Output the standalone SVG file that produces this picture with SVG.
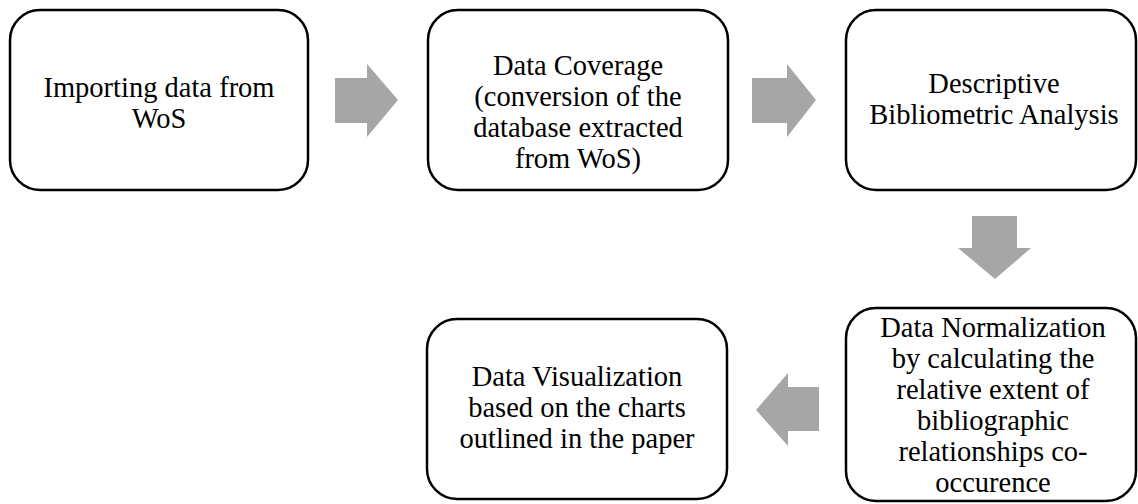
<svg xmlns="http://www.w3.org/2000/svg" width="1138" height="504" viewBox="0 0 1138 504">
<style>
.box{fill:#fff;stroke:#000;stroke-width:2.5}
.arr{fill:#a6a6a6;stroke:none}
text{font-family:"Liberation Serif","DejaVu Serif",serif;font-size:28.5px;fill:#000;text-anchor:middle}
</style>
<rect width="1138" height="504" fill="#fff"/>
<g id="connectors">
<polygon class="arr" points="335,78 367,78 367,64 398,100 367,137 367,123 335,123"/>
<polygon class="arr" points="752,78 787,78 787,64 816,100 787,137 787,123 752,123"/>
<polygon class="arr" points="972,216 1017,216 1017,248 1031,248 995,279 958,248 972,248"/>
<polygon class="arr" points="819,387 788,387 788,373 756,410 788,446 788,431 819,431"/>
</g>
<g id="node1">
<rect class="box" x="10" y="10" width="298" height="180" rx="30"/>
<text x="159" y="97">Importing data from</text>
<text x="159" y="128">WoS</text>
</g>
<g id="node2">
<rect class="box" x="428" y="10" width="300" height="180" rx="30"/>
<text x="578" y="75">Data Coverage</text>
<text x="578" y="106">(conversion of the</text>
<text x="578" y="137">database extracted</text>
<text x="578" y="168">from WoS)</text>
</g>
<g id="node3">
<rect class="box" x="846" y="10" width="290" height="180" rx="30"/>
<text x="994" y="93">Descriptive</text>
<text x="994" y="124">Bibliometric Analysis</text>
</g>
<g id="node4">
<rect class="box" x="427" y="319" width="300" height="180" rx="30"/>
<text x="577" y="386">Data Visualization</text>
<text x="577" y="417">based on the charts</text>
<text x="577" y="448">outlined in the paper</text>
</g>
<g id="node5">
<rect class="box" x="846" y="308" width="290" height="193" rx="30"/>
<text x="993" y="337">Data Normalization</text>
<text x="993" y="368">by calculating the</text>
<text x="993" y="399">relative extent of</text>
<text x="993" y="430">bibliographic</text>
<text x="993" y="461">relationships co-</text>
<text x="993" y="492">occurence</text>
</g>
</svg>
